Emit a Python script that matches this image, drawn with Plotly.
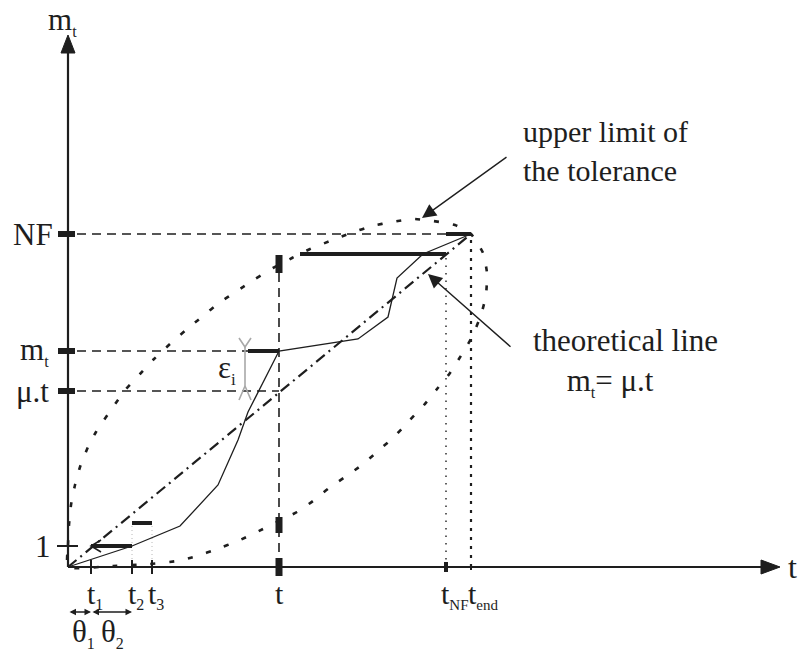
import plotly.graph_objects as go

# ---------------- data (diagram units, origin of the axes at 0,0) ----------------
def sub(s, size=16):
    return "<sub><span style='font-size:%dpx'>%s</span></sub>" % (size, s)


t_labels = ["t" + sub("1"), "t" + sub("2"), "t" + sub("3"), "t", "t" + sub("NF", 15), "t" + sub("end", 15)]
t_values = [23, 64, 84, 211, 378, 403]
m_labels = ["1", "μ.t", "m" + sub("t"), "NF"]
m_values = [21, 176, 216, 333]

# observed cumulative curve
obs_t = [0, 64, 112, 150, 170, 180, 211, 290, 320, 329, 355, 403]
obs_m = [0, 21, 41, 82, 127, 155, 216, 228, 250, 289, 313, 333]

# theoretical line m_t = mu.t
theory_t = [0, 403]
theory_m = [0, 333]

# tolerance envelope (closed loop, dotted)
tol_t = [0, 0, 1, 3, 7, 12, 20, 28, 36, 45, 58, 72, 86, 102, 118, 135, 151, 169, 187, 205,
         224, 242, 262, 283, 304, 324, 345, 365, 387, 403, 415, 419, 418, 413, 404, 394, 382,
         369, 356, 340, 326, 310, 294, 277, 261, 245, 229, 209, 189, 170, 149, 129, 109, 82, 45, 0]
tol_m = [0, 22, 42, 62, 82, 100, 120, 135, 147, 160, 178, 193, 208, 223, 237, 251, 264, 276, 288, 299,
         309, 318, 326, 334, 341, 345, 348, 346, 342, 333, 314, 294, 272, 252, 230, 213, 194,
         178, 162, 145, 130, 116, 102, 90, 79, 66, 55, 45, 35, 26, 18, 11, 6, 3, 1, 0]

# thick horizontal steps
step_t0 = [23, 64, 180, 232, 378]
step_t1 = [64, 84, 211, 378, 403]
step_m = [21, 44, 216, 313, 333]

# tolerance interval marks at t
tol_at_t_low = [34, 50]
tol_at_t_high = [294, 312]

eps_t = 177
T_MAX = 712
M_MAX = 532

INK = "#1e1e1e"
FONT = "Liberation Serif, Times New Roman, serif"

fig = go.Figure()


def seg_trace(xs, ys, width, dash="solid", color=INK):
    fig.add_trace(go.Scatter(x=xs, y=ys, mode="lines",
                             line=dict(color=color, width=width, dash=dash),
                             hoverinfo="skip", showlegend=False))


t1, t2, t3, tt, tNF, tend = t_values
m1, mu_t, m_t, NF = m_values

# tolerance envelope
fig.add_trace(go.Scatter(x=tol_t, y=tol_m, mode="lines",
                         line=dict(color=INK, width=2.6, dash="5px,14px", shape="spline", smoothing=0.5),
                         hoverinfo="skip", showlegend=False))

# dashed guide lines
seg_trace([9, tend, None, 9, 180, None, 9, tt, None, tt, tt],
          [NF, NF, None, m_t, m_t, None, mu_t, mu_t, None, 0, tol_at_t_high[0]],
          1.6, "9px,6px")

# dotted verticals
seg_trace([tNF, tNF], [0, step_m[3]], 1.4, "1.5px,6px")
seg_trace([tend, tend], [0, NF], 2.2, "3px,6px")
seg_trace([t2, t2, None, t3, t3], [0, step_m[1], None, 0, step_m[1]], 1, "1px,3px", "#b8b8b8")

# theoretical line
seg_trace(theory_t, theory_m, 2.2, "11px,5px,2px,5px")

# observed curve
seg_trace(obs_t, obs_m, 1.3)

# thick steps
xs, ys = [], []
for a, b, m in zip(step_t0, step_t1, step_m):
    xs += [a, b, None]
    ys += [m, m, None]
seg_trace(xs, ys, 4)

# chevron at (t1, 1)
seg_trace([t1 + 10, t1, t1 + 10], [m1 + 6, m1, m1 - 6], 1.6)

# tolerance interval bars at t
seg_trace([tt, tt, None, tt, tt], tol_at_t_low + [None] + tol_at_t_high, 7)

# epsilon bracket (gray)
seg_trace([eps_t - 6, eps_t, eps_t + 6, None, eps_t, eps_t, None, eps_t - 6, eps_t, eps_t + 6],
          [m_t + 13, m_t + 4, m_t + 13, None, m_t + 4, mu_t + 5, None, mu_t - 9, mu_t + 5, mu_t - 9],
          1.6, "solid", "#a8a8a8")

# axes
seg_trace([0, T_MAX - 10], [0, 0], 2.2)
seg_trace([0, 0], [0, M_MAX - 10], 2.2)
fig.add_trace(go.Scatter(x=[T_MAX, T_MAX - 19, T_MAX - 19, T_MAX], y=[0, 7, -7, 0], mode="lines",
                         fill="toself", fillcolor=INK, line=dict(color=INK, width=1),
                         hoverinfo="skip", showlegend=False))
fig.add_trace(go.Scatter(x=[0, -7, 7, 0], y=[M_MAX, M_MAX - 18, M_MAX - 18, M_MAX], mode="lines",
                         fill="toself", fillcolor=INK, line=dict(color=INK, width=1),
                         hoverinfo="skip", showlegend=False))

# y ticks
seg_trace([-11, 10], [m1, m1], 2)
xs, ys = [], []
for m in m_values[1:]:
    xs += [-10, 7, None]
    ys += [m, m, None]
seg_trace(xs, ys, 6)

# x ticks
seg_trace([t1, t1, None, t2, t2, None, t3, t3], [-7, 7, None, -7, 7, None, -7, 7], 2)
seg_trace([tt, tt], [-9, 9], 7)
seg_trace([tNF, tNF], [-5, 5], 4)
seg_trace([tend, tend], [-3, 3], 2)

annotations = []
# axis titles
annotations.append(dict(x=-6, y=546, text="m" + sub("t"), showarrow=False, xanchor="center", yanchor="middle",
                        font=dict(size=31, family=FONT, color=INK)))
annotations.append(dict(x=724, y=0, text="t", showarrow=False, xanchor="center", yanchor="middle",
                        font=dict(size=32, family=FONT, color=INK)))
# y tick labels
y_label_x = [-15, -17, -17, -13]
for lab, v, lx in zip(m_labels, m_values, y_label_x):
    annotations.append(dict(x=lx, y=v, text=lab, showarrow=False, xanchor="right", yanchor="middle",
                            font=dict(size=31, family=FONT, color=INK)))
# x tick labels
x_shift = [4, 4, 4, 0, 9, 12]
for lab, v, s in zip(t_labels, t_values, x_shift):
    annotations.append(dict(x=v + s, y=-8, text=lab, showarrow=False, xanchor="center", yanchor="top",
                            font=dict(size=30, family=FONT, color=INK)))
# theta intervals
annotations.append(dict(x=t1, y=-45, ax=0, ay=-45, xref="x", yref="y", axref="x", ayref="y", text="",
                        showarrow=True, arrowhead=2, arrowside="end+start", arrowsize=1, arrowwidth=1.3,
                        arrowcolor=INK))
annotations.append(dict(x=t2, y=-45, ax=t1, ay=-45, xref="x", yref="y", axref="x", ayref="y", text="",
                        showarrow=True, arrowhead=2, arrowside="end+start", arrowsize=1, arrowwidth=1.3,
                        arrowcolor=INK))
annotations.append(dict(x=t1 / 2 + 4, y=-66, text="θ" + sub("1"), showarrow=False, xanchor="center",
                        yanchor="middle", font=dict(size=31, family=FONT, color=INK)))
annotations.append(dict(x=(t1 + t2) / 2 + 1, y=-66, text="θ" + sub("2"), showarrow=False, xanchor="center",
                        yanchor="middle", font=dict(size=31, family=FONT, color=INK)))
# epsilon
annotations.append(dict(x=eps_t - 18, y=(m_t + mu_t) / 2 + 2, text="ε" + sub("i", 17), showarrow=False,
                        xanchor="center", yanchor="middle", font=dict(size=31, family=FONT, color=INK)))
# callouts
annotations.append(dict(x=354, y=349, ax=440, ay=411, xref="x", yref="y", axref="x", ayref="y", text="",
                        showarrow=True, arrowhead=2, arrowsize=2, arrowwidth=1.4, arrowcolor=INK))
annotations.append(dict(x=453, y=416, text="upper limit of<br>the tolerance", showarrow=False,
                        xanchor="left", yanchor="middle", align="left",
                        font=dict(size=30, family=FONT, color=INK)))
annotations.append(dict(x=360, y=293, ax=444, ay=219, xref="x", yref="y", axref="x", ayref="y", text="",
                        showarrow=True, arrowhead=2, arrowsize=2, arrowwidth=1.4, arrowcolor=INK))
annotations.append(dict(x=557, y=205,
                        text="theoretical line<br>m" + sub("t") + "= μ.t&nbsp;&nbsp;&nbsp;&nbsp;",
                        showarrow=False, xanchor="center", yanchor="middle", align="center",
                        font=dict(size=31, family=FONT, color=INK)))

fig.update_layout(
    width=799, height=654, margin=dict(l=0, r=0, t=0, b=0),
    paper_bgcolor="white", plot_bgcolor="white",
    xaxis=dict(range=[-68, 731], visible=False, fixedrange=True),
    yaxis=dict(range=[-87, 567], visible=False, fixedrange=True),
    annotations=annotations, showlegend=False, hovermode=False,
)

fig.write_html("out.html", config={"displayModeBar": False},
               post_script="document.body.style.margin='0';document.body.style.overflow='hidden';")
